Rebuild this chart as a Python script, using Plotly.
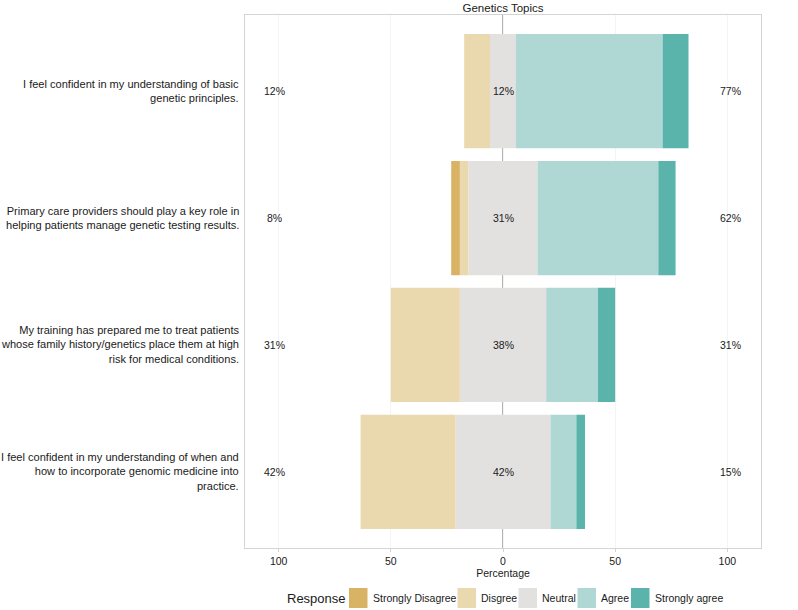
import plotly.graph_objects as go

# ---- data ----
questions = [
    "I feel confident in my understanding of basic<br>genetic principles.",
    "Primary care providers should play a key role in<br>helping patients manage genetic testing results.",
    "My training has prepared me to treat patients<br>whose family history/genetics place them at high<br>risk for medical conditions.",
    "I feel confident in my understanding of when and<br>how to incorporate genomic medicine into<br>practice.",
]
row_pos = [4, 3, 2, 1]
strongly_disagree = [0.0, 3.85, 0.0, 0.0]
disagree = [11.54, 3.85, 30.77, 42.31]
neutral = [11.54, 30.77, 38.46, 42.31]
agree = [65.38, 53.85, 23.08, 11.54]
strongly_agree = [11.54, 7.69, 7.69, 3.85]
x_ticks = [-100, -50, 0, 50, 100]
x_ticklabels = ["100", "50", "0", "50", "100"]
responses = ["Strongly Disagree", "Disgree", "Neutral", "Agree", "Strongly agree"]

colors = {
    "Strongly Disagree": "#D8B365",
    "Disgree": "#EAD8AF",
    "Neutral": "#E2E1E0",
    "Agree": "#AFD8D5",
    "Strongly agree": "#5AB4AC",
}
FONT = "Liberation Sans, Arial, Helvetica, sans-serif"
TXT = "#1a1a1a"

# plot-area geometry (pixels)
W, H = 798, 610
PL, PR, PT, PB = 245, 761, 15, 548

def px_x(px):
    return (px - PL) / (PR - PL)

def px_y(py):
    return (PB - py) / (PB - PT)

fig = go.Figure()

def add_bar(name, vals, sign):
    fig.add_trace(go.Bar(
        y=row_pos, x=[sign * v for v in vals], orientation="h",
        name=name, marker=dict(color=colors[name], line=dict(width=0)),
        width=0.9, showlegend=False, hoverinfo="skip",
    ))

# negative side (stacked away from zero in trace order)
add_bar("Neutral", [v / 2 for v in neutral], -1)
add_bar("Disgree", disagree, -1)
add_bar("Strongly Disagree", strongly_disagree, -1)
# positive side
add_bar("Neutral", [v / 2 for v in neutral], 1)
add_bar("Agree", agree, 1)
add_bar("Strongly agree", strongly_agree, 1)

annotations = []
for i, y in enumerate(row_pos):
    low = round(strongly_disagree[i] + disagree[i])
    mid = round(neutral[i])
    high = round(agree[i] + strongly_agree[i])
    for xv, txt in [(-102, low), (0, mid), (101.5, high)]:
        annotations.append(dict(x=xv, y=y, xref="x", yref="y", text=f"{txt}%",
                                showarrow=False, font=dict(size=10.5, color=TXT, family=FONT)))
    annotations.append(dict(x=0, y=y, xref="paper", yref="y", text=questions[i],
                            xanchor="right", align="right", xshift=-4, showarrow=False,
                            font=dict(size=11.05, color=TXT, family=FONT)))

shapes = [dict(type="line", xref="x", yref="paper", x0=0, x1=0, y0=0, y1=1,
               line=dict(color="#808080", width=1.2), layer="between")]

# ---- manual legend (ggplot style) ----
legend_y0, legend_y1 = 588, 608
legend_cy = (legend_y0 + legend_y1) / 2
annotations.append(dict(x=px_x(285), y=px_y(legend_cy), xref="paper", yref="paper",
                        text="Response", xanchor="left", yanchor="middle", showarrow=False,
                        font=dict(size=13, color=TXT, family=FONT)))
swatch_left = [349, 457.5, 518.5, 577.5, 631]
for name, sx in zip(responses, swatch_left):
    shapes.append(dict(type="rect", xref="paper", yref="paper",
                       x0=px_x(sx), x1=px_x(sx + 18.5), y0=px_y(legend_y1), y1=px_y(legend_y0),
                       fillcolor=colors[name], line=dict(width=0)))
    annotations.append(dict(x=px_x(sx + 21.5), y=px_y(legend_cy), xref="paper", yref="paper",
                            text=name, xanchor="left", yanchor="middle", showarrow=False,
                            font=dict(size=10.5, color=TXT, family=FONT)))

fig.update_layout(
    width=W, height=H,
    margin=dict(l=PL, r=W - PR, t=PT, b=H - PB, autoexpand=False),
    barmode="relative",
    plot_bgcolor="white", paper_bgcolor="white",
    font=dict(family=FONT, color=TXT),
    title=dict(text="Genetics Topics", x=0.5, xref="paper", xanchor="center",
               y=1, yref="container", yanchor="top", pad=dict(t=3.5),
               font=dict(size=11.5, color=TXT, family=FONT)),
    xaxis=dict(range=[-115, 115], tickvals=x_ticks, ticktext=x_ticklabels,
               showgrid=True, gridcolor="#F4F4F4", zeroline=False,
               showline=True, linecolor="#D4D4D4", mirror=True,
               ticks="outside", ticklen=3, tickcolor="#D4D4D4",
               tickfont=dict(size=10.5, color=TXT),
               title=dict(text="Percentage", font=dict(size=10.5, color=TXT), standoff=3)),
    yaxis=dict(range=[0.4, 4.6], showticklabels=False, showgrid=False, zeroline=False,
               showline=True, linecolor="#D4D4D4", mirror=True, ticks=""),
    shapes=shapes,
    annotations=annotations,
    showlegend=False,
    bargap=0.1,
)

fig.write_html("out.html", config={"displayModeBar": False},
               post_script="document.body.style.margin='0';")
